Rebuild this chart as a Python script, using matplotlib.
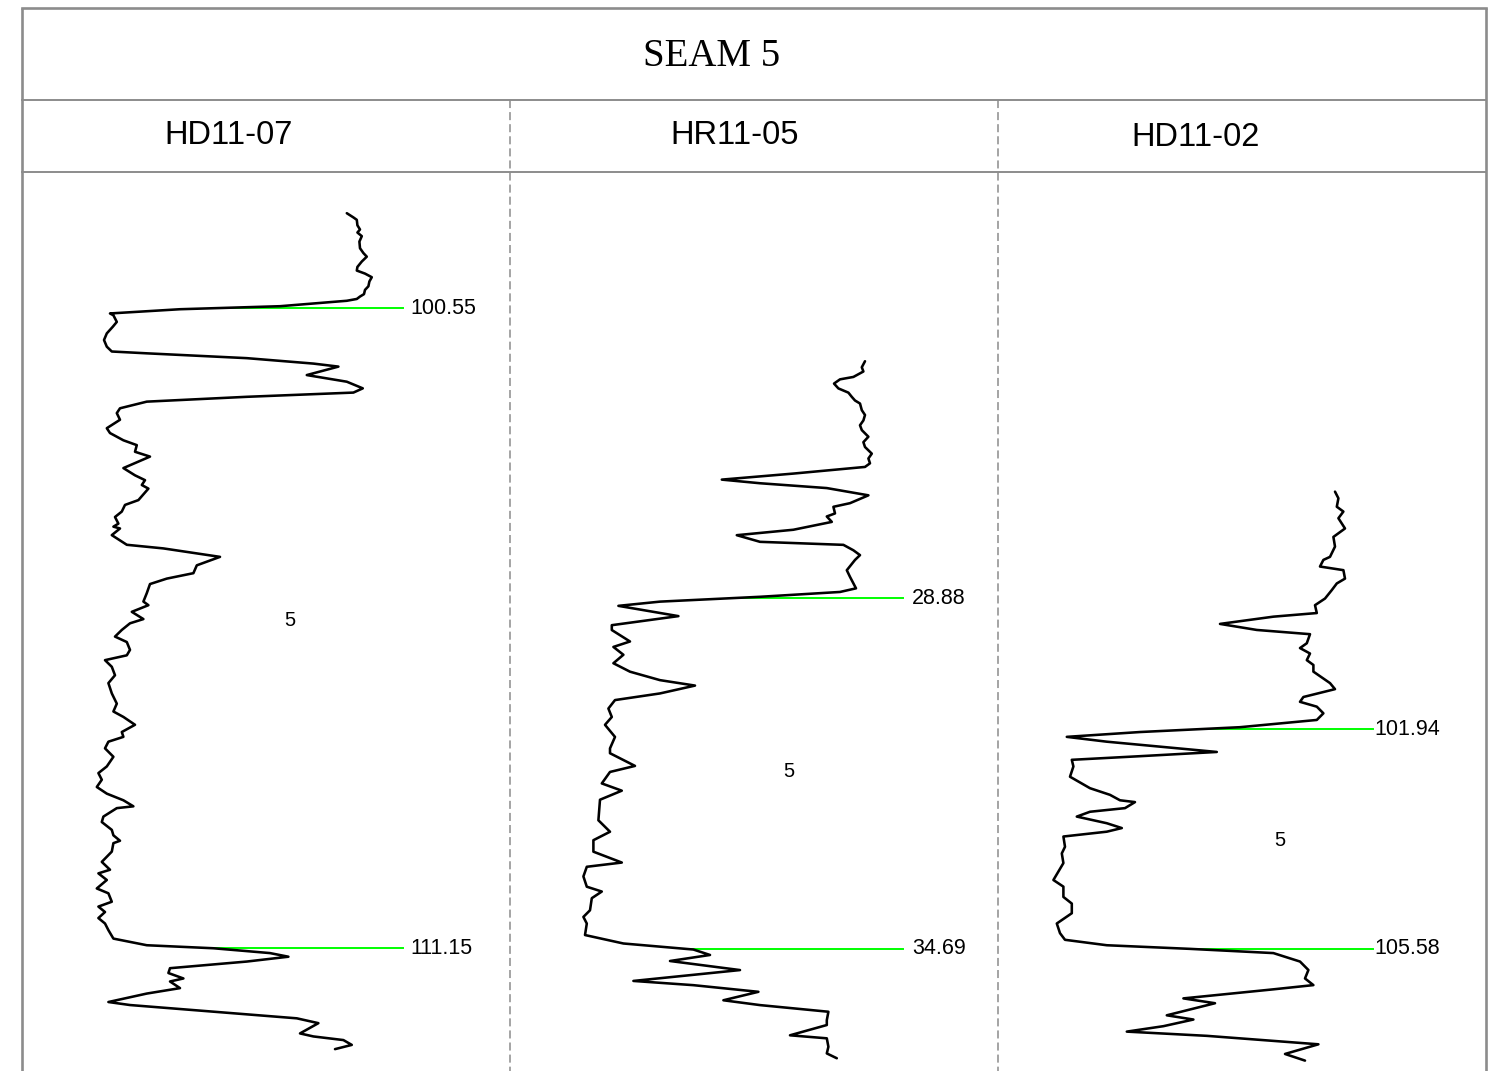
import matplotlib
matplotlib.use("Agg")
import matplotlib.pyplot as plt
import numpy as np

plt.rcParams["lines.scale_dashes"] = False

# ---------------------------------------------------------------- data
title = "SEAM 5"
seam_name = "5"
well_names = ["HD11-07", "HR11-05", "HD11-02"]

# gamma-ray log, HD11-07 (depth m, GR API)
hd11_07_depth = [98.98, 99.05, 99.09, 99.18, 99.25, 99.30, 99.36, 99.45, 99.56, 99.64,
                 99.70, 99.78, 99.87, 99.93, 99.98, 100.04, 100.11, 100.19, 100.25, 100.32,
                 100.36, 100.40, 100.43, 100.52, 100.57, 100.64, 100.67, 100.78, 100.86,
                 100.97, 101.08, 101.19, 101.27, 101.30, 101.38, 101.47, 101.52, 101.66, 101.77,
                 101.88, 101.95, 102.02, 102.10, 102.21, 102.29, 102.40, 102.54, 102.62, 102.74,
                 102.82, 102.93, 103.01, 103.20, 103.32, 103.40, 103.48, 103.54, 103.73, 103.81,
                 103.92, 104.01, 104.12, 104.17, 104.20, 104.31, 104.47, 104.53, 104.67, 104.81,
                 104.94, 105.03, 105.12, 105.27, 105.41, 105.47, 105.58, 105.70, 105.77, 105.88,
                 105.99, 106.08, 106.21, 106.30, 106.38, 106.49, 106.63, 106.76, 106.93, 107.10,
                 107.23, 107.32, 107.45, 107.57, 107.65, 107.73, 107.84, 107.98, 108.14, 108.25,
                 108.36, 108.48, 108.59, 108.70, 108.80, 108.83, 108.97, 109.06, 109.19, 109.28,
                 109.37, 109.41, 109.55, 109.72, 109.85, 109.91, 110.02, 110.16, 110.24, 110.38,
                 110.46, 110.55, 110.65, 110.74, 110.85, 110.99, 111.10, 111.15, 111.23, 111.29,
                 111.37, 111.48, 111.56, 111.65, 111.70, 111.81, 111.90, 112.04, 112.09, 112.20,
                 112.31, 112.39, 112.56, 112.61, 112.67, 112.75, 112.82]
hd11_07_gr = [137.4, 140.7, 142.4, 142.7, 144.0, 142.7, 144.9, 143.7, 144.0, 145.7,
              147.4, 144.9, 142.7, 142.4, 146.5, 149.9, 148.7, 148.2, 146.5, 146.0,
              144.0, 142.4, 137.4, 104.0, 54.0, 19.0, 20.7, 22.4, 20.4,
              17.4, 16.0, 17.4, 19.9, 37.4, 87.4, 120.7, 133.2, 117.4, 137.4,
              145.4, 140.7, 87.4, 37.4, 24.0, 22.4, 24.0, 17.4, 19.0, 25.7,
              32.4, 31.5, 39.0, 25.7, 31.5, 36.5, 34.9, 38.2, 33.2, 26.5,
              24.9, 21.5, 23.2, 20.7, 24.0, 19.9, 27.4, 45.7, 74.0, 62.4,
              60.7, 47.4, 39.0, 37.4, 35.7, 38.2, 29.9, 35.7, 29.0, 24.9,
              21.5, 27.4, 29.0, 27.4, 16.5, 19.9, 21.5, 18.2, 19.9, 22.4,
              20.7, 25.7, 31.5, 24.9, 25.7, 18.2, 16.5, 20.7, 17.4, 13.2,
              14.9, 12.4, 17.4, 25.7, 30.7, 22.4, 15.7, 14.9, 19.9, 20.7,
              24.0, 20.7, 19.9, 14.9, 19.0, 13.2, 17.4, 12.4, 18.2, 19.9,
              13.2, 16.5, 13.2, 16.5, 18.2, 20.7, 37.4, 70.7, 99.0, 108.2,
              87.4, 49.0, 48.2, 55.7, 49.0, 54.0, 37.4, 18.2, 29.0, 70.7,
              112.4, 123.2, 114.0, 120.7, 135.7, 139.9, 131.5]

# gamma-ray log, HR11-05
hr11_05_depth = [24.96, 25.06, 25.13, 25.22, 25.26, 25.33, 25.41, 25.48, 25.55, 25.61,
                 25.66, 25.77, 25.85, 25.94, 26.02, 26.10, 26.21, 26.30, 26.38, 26.49,
                 26.57, 26.65, 26.71, 26.82, 26.92, 26.98,
                 27.06, 27.18, 27.31, 27.37, 27.48, 27.53, 27.62, 27.75, 27.84, 27.95,
                 28.00, 28.09, 28.17, 28.25, 28.42, 28.53, 28.72, 28.78, 28.86, 28.94,
                 29.01, 29.18, 29.33, 29.41, 29.60, 29.69, 29.82, 29.96, 30.10, 30.24,
                 30.33, 30.46, 30.57, 30.71, 30.85, 30.98, 31.18, 31.37, 31.45, 31.66,
                 31.76, 31.95, 32.07, 32.22, 32.56, 32.75, 32.89, 33.08, 33.26, 33.33,
                 33.49, 33.66, 33.74, 33.85, 34.05, 34.16, 34.27, 34.46, 34.60, 34.70,
                 34.79, 34.89, 35.04, 35.22, 35.29, 35.40, 35.54, 35.62, 35.73, 35.87,
                 35.95, 36.12, 36.17, 36.31, 36.42, 36.50]
hr11_05_gr = [152.5, 150.9, 151.7, 146.7, 140.0, 137.0, 139.2, 144.2, 145.9, 147.5,
              150.0, 150.9, 152.5, 151.7, 150.0, 150.9, 154.2, 151.7, 152.5, 155.9,
              154.2, 155.0, 152.5, 116.7, 80.9, 100.0,
              133.4, 154.2, 145.0, 136.7, 137.5, 133.4, 135.9, 116.7, 88.4, 100.0,
              141.7, 146.7, 150.0, 147.5, 143.4, 145.0, 148.0, 140.0, 100.0, 50.0,
              29.2, 59.2, 25.9, 25.9, 35.0, 26.7, 31.7, 26.7, 35.0, 50.0,
              67.5, 50.0, 27.5, 24.2, 25.9, 22.5, 27.5, 25.0, 25.0, 37.5,
              25.0, 20.9, 30.9, 20.0, 19.2, 25.0, 16.7, 16.7, 30.9, 13.4,
              11.7, 13.4, 20.9, 15.9, 15.0, 11.7, 13.4, 12.5, 31.7, 66.7,
              75.0, 55.0, 90.0, 36.7, 66.7, 99.2, 81.7, 100.0, 134.2, 133.4,
              133.4, 115.0, 133.4, 134.2, 133.4, 138.4]

# gamma-ray log, HD11-02
hd11_02_depth = [98.01, 98.12, 98.26, 98.34, 98.45, 98.62, 98.76, 98.92, 99.09, 99.14,
                 99.25, 99.31, 99.45, 99.53, 99.64, 99.78, 99.89, 100.02, 100.08, 100.20,
                 100.30, 100.37, 100.52, 100.60, 100.69, 100.80, 100.88, 100.99, 101.18, 101.28,
                 101.41, 101.49, 101.57, 101.68, 101.79, 101.91, 101.99, 102.07, 102.15, 102.32,
                 102.39, 102.45, 102.56, 102.73, 102.92, 103.03, 103.12, 103.15, 103.25, 103.31,
                 103.39, 103.50, 103.58, 103.64, 103.72, 103.89, 104.00, 104.16, 104.44, 104.55,
                 104.72, 104.83, 104.99, 105.16, 105.32, 105.43, 105.52, 105.58, 105.65, 105.79,
                 105.93, 106.07, 106.18, 106.25, 106.40, 106.48, 106.68, 106.75, 106.86, 106.95,
                 107.02, 107.16, 107.32, 107.43]
hd11_02_gr = [143.5, 145.2, 144.4, 147.7, 145.2, 148.5, 142.7, 143.5, 141.0, 137.7,
              136.0, 147.7, 148.5, 144.4, 141.9, 138.5, 133.5, 134.4, 112.7, 86.0,
              104.4, 131.0, 129.4, 126.0, 131.0, 129.4, 132.7, 132.7, 141.0, 143.5,
              127.7, 126.0, 134.4, 137.7, 134.4, 96.0, 46.0, 9.4, 29.4, 84.4,
              46.0, 11.9, 12.7, 11.0, 21.0, 31.0, 36.0, 43.5, 38.5, 21.0,
              14.4, 29.4, 36.9, 29.4, 7.7, 8.5, 6.9, 7.7, 2.7, 7.7,
              7.7, 11.9, 11.9, 4.4, 6.0, 8.5, 29.4, 71.0, 112.7, 126.0,
              130.2, 128.5, 132.7, 112.7, 67.7, 83.5, 59.4, 72.7, 57.7, 39.4,
              79.4, 135.2, 118.5, 128.5]

# seam roof / floor picks (m)
hd11_07_tops = [100.55, 111.15]
hr11_05_tops = [28.88, 34.69]
hd11_02_tops = [101.94, 105.58]

# seam label position (GR, depth) in each track
seam_label_at = [(109.0, 105.72), (114.2, 31.76), (115.7, 103.78)]

# ---------------------------------------------------------------- layout
W, H, DPI = 1496, 1071, 100
col_left = [22, 510, 998]
col_w = 488
track_top_px = 172
frame_color = "#8c8c8c"
gr_lim = (-25, 219)
px_per_m = 60.4
window_top = [98.298, 21.827, 92.718]
pick_line_end = [165.5, 171.7, 162.5]
pick_text_x = [169.0, 176.0, 163.0]
name_pos = [(229, 135), (735, 135), (1196, 138)]

wells = [
    (hd11_07_depth, hd11_07_gr, hd11_07_tops),
    (hr11_05_depth, hr11_05_gr, hr11_05_tops),
    (hd11_02_depth, hd11_02_gr, hd11_02_tops),
]

fig = plt.figure(figsize=(W / DPI, H / DPI), dpi=DPI)
fig.patch.set_facecolor("white")

# frame / header grid in pixel coordinates
frame = fig.add_axes([0, 0, 1, 1])
frame.set_xlim(0, W)
frame.set_ylim(H, 0)
frame.axis("off")
frame.plot([22, 22], [8, H + 5], color=frame_color, lw=1.9, solid_capstyle="butt")
frame.plot([1486, 1486], [8, H + 5], color=frame_color, lw=1.9, solid_capstyle="butt")
frame.plot([22, 1486], [8, 8], color=frame_color, lw=1.9, solid_capstyle="projecting")
frame.plot([22, 1486], [100, 100], color=frame_color, lw=1.4)
frame.plot([22, 1486], [172, 172], color=frame_color, lw=1.4)
for x in col_left[1:]:
    ln, = frame.plot([x, x], [100, H + 5], color=frame_color, lw=1.1)
    ln.set_dashes((5.8, 2.9))

frame.text(712, 56, title, ha="center", va="center", fontsize=28,
           family="Liberation Serif", color="black")
for name, (nx, ny) in zip(well_names, name_pos):
    frame.text(nx, ny, name, ha="center", va="center", fontsize=23.5,
               family="Liberation Sans", color="black")

span_m = (H - track_top_px) / px_per_m
for i, (depth, gr, tops) in enumerate(wells):
    ax = fig.add_axes([col_left[i] / W, 0, col_w / W, (H - track_top_px) / H])
    ax.set_xlim(*gr_lim)
    ax.set_ylim(window_top[i] + span_m, window_top[i])
    ax.axis("off")
    ax.patch.set_alpha(0)

    d = np.asarray(depth)
    g = np.asarray(gr)
    for top in tops:
        x0 = np.interp(top, d, g)
        ax.plot([x0, pick_line_end[i]], [top, top], color="#00ff00", lw=1.4, zorder=2)
        ax.text(pick_text_x[i], top, f"{top:.2f}", ha="left", va="center",
                fontsize=15.5, family="Liberation Sans", color="black", zorder=4)
    ax.plot(g, d, color="black", lw=1.85, solid_joinstyle="round",
            solid_capstyle="round", zorder=3)

    lx, ly = seam_label_at[i]
    ax.text(lx, ly, seam_name, ha="center", va="center", fontsize=14.5,
            family="Liberation Sans", color="black")

fig.savefig("out.png", dpi=DPI, facecolor="white")
